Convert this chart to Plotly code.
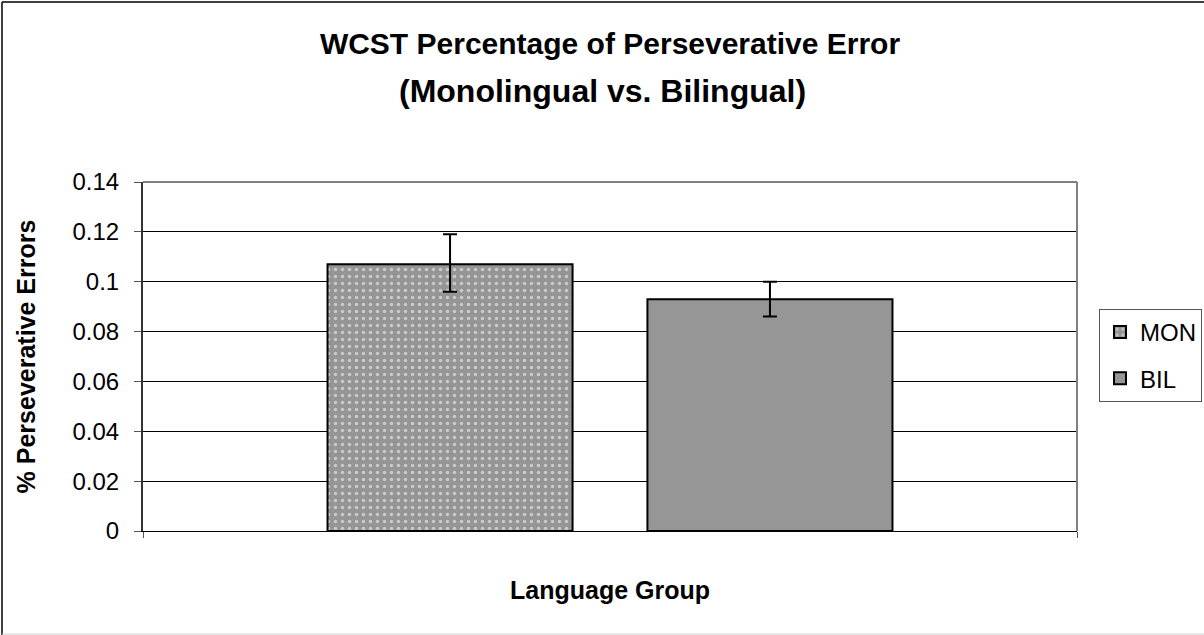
import plotly.graph_objects as go

# ---- data ----
categories = ["Language Group"]
series_names = ["MON", "BIL"]
mon_values = [0.107]
bil_values = [0.093]
mon_err_plus = [0.012]
mon_err_minus = [0.011]
bil_err_plus = [0.007]
bil_err_minus = [0.007]
y_ticks = [0, 0.02, 0.04, 0.06, 0.08, 0.1, 0.12, 0.14]

FONT = "Arial, Liberation Sans, sans-serif"
W, H = 1204, 635
L, R, T, B = 143, 127, 182, 104
PW, PH = W - L - R, H - T - B


def px_x(px):
    return (px - L) / PW


def px_y(py):
    return (H - B - py) / PH


fig = go.Figure()
fig.add_trace(go.Bar(
    name=series_names[0], x=categories, y=mon_values, legendgroup="mon",
    marker=dict(color="#959595", line=dict(color="black", width=2),
                pattern=dict(shape=".", fgcolor="white", bgcolor="#959595",
                             size=7, solidity=0.2, fillmode="overlay")),
    error_y=dict(type="data", array=mon_err_plus, arrayminus=mon_err_minus,
                 color="black", thickness=2, width=7),
))
fig.add_trace(go.Bar(
    name=series_names[1], x=categories, y=bil_values, legendgroup="bil",
    marker=dict(color="#969696", line=dict(color="black", width=2)),
    error_y=dict(type="data", array=bil_err_plus, arrayminus=bil_err_minus,
                 color="black", thickness=2, width=7),
))

fig.update_layout(
    width=W, height=H,
    margin=dict(l=L, r=R, t=T, b=B, autoexpand=False),
    paper_bgcolor="white", plot_bgcolor="white",
    font=dict(family=FONT, size=24, color="black"),
    barmode="group", bargap=0.315, bargroupgap=0.234,
    title=dict(text="<b>WCST Percentage of Perseverative Error</b>",
               x=0.5, xanchor="center", xref="paper",
               y=1 - 43 / H, yanchor="middle", yref="container",
               font=dict(family=FONT, size=30, color="black")),
    showlegend=True,
    legend=dict(x=px_x(1099), xanchor="left", y=px_y(309), yanchor="top",
                bordercolor="#555555", borderwidth=1, bgcolor="white",
                font=dict(family=FONT, size=24, color="black"),
                traceorder="grouped", tracegroupgap=12, itemwidth=30),
)

fig.add_annotation(text="<b>(Monolingual vs. Bilingual)</b>",
                   xref="paper", yref="paper",
                   x=px_x(W / 2), y=px_y(91), xanchor="center", yanchor="middle",
                   showarrow=False, font=dict(family=FONT, size=32, color="black"))

fig.update_xaxes(
    type="category", showticklabels=False, tickson="boundaries",
    ticks="outside", ticklen=6, tickcolor="#555555", tickwidth=1,
    showline=True, linecolor="black", linewidth=1, showgrid=False,
    title=dict(text="<b>Language Group</b>", standoff=50,
               font=dict(family=FONT, size=25, color="black")),
)
fig.update_yaxes(
    range=[0, 0.14], tickvals=y_ticks, ticks="outside", ticklen=7,
    tickcolor="#555555", tickwidth=1, ticklabelstandoff=10,
    showline=True, linecolor="#333333", linewidth=2,
    showgrid=True, gridcolor="black", gridwidth=1, zeroline=False,
    tickfont=dict(family=FONT, size=24, color="black"),
    title=dict(text="<b>% Perseverative Errors</b>", standoff=30,
               font=dict(family=FONT, size=25, color="black")),
)

# plot-area border (top and right, gray)
fig.add_shape(type="line", xref="paper", yref="paper", x0=0, x1=1, y0=1, y1=1,
              line=dict(color="#808080", width=2))
fig.add_shape(type="line", xref="paper", yref="paper", x0=1, x1=1, y0=0, y1=1,
              line=dict(color="#808080", width=2))
# outer chart border
fig.add_shape(type="line", xref="paper", yref="paper",
              x0=px_x(2), x1=px_x(2), y0=px_y(2), y1=px_y(H),
              line=dict(color="black", width=1.5))
fig.add_shape(type="line", xref="paper", yref="paper",
              x0=px_x(2), x1=px_x(W), y0=px_y(2), y1=px_y(2),
              line=dict(color="black", width=1.5))
fig.add_shape(type="line", xref="paper", yref="paper",
              x0=px_x(2), x1=px_x(W), y0=px_y(634), y1=px_y(634),
              line=dict(color="#d0d0d0", width=1))

fig.write_html("out.html", config={"displayModeBar": False},
               post_script="document.body.style.margin='0px';document.body.style.overflow='hidden';")
